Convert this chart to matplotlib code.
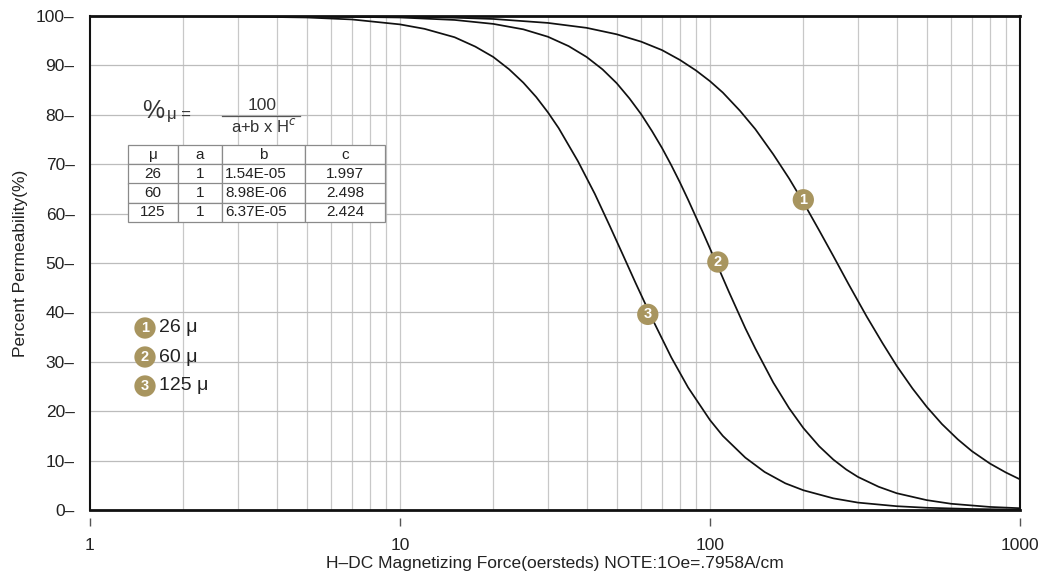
import numpy as np
import matplotlib
matplotlib.use('Agg')
import matplotlib.pyplot as plt
from matplotlib.transforms import blended_transform_factory

plt.rcParams['font.family'] = ['Liberation Sans', 'DejaVu Sans']

# curve readings: H (oersteds) vs percent permeability
H1 = [1, 3, 5, 10, 15, 20, 30, 40, 50, 60, 70, 80, 90, 100, 110, 125, 140, 160, 180, 200,
      225, 250, 280, 320, 360, 400, 450, 500, 560, 630, 700, 800, 900, 1000]
P1 = [100, 99.99, 99.96, 99.85, 99.66, 99.4, 98.6, 97.6, 96.3, 94.8, 93.1, 91.1, 89.0, 86.8,
      84.5, 80.8, 77.1, 72.0, 67.1, 62.3, 56.6, 51.4, 45.7, 39.2, 33.8, 29.2, 24.6, 20.9,
      17.4, 14.3, 11.9, 9.4, 7.6, 6.2]

H2 = [1, 3, 5, 10, 15, 20, 25, 30, 35, 40, 45, 50, 55, 60, 65, 70, 75, 80, 85, 95, 105,
      115, 130, 140, 160, 180, 200, 225, 250, 275, 300, 350, 400, 500, 600, 800, 1000]
P2 = [100, 99.99, 99.95, 99.7, 99.2, 98.4, 97.3, 95.8, 93.9, 91.7, 89.2, 86.4, 83.3, 80.1,
      76.7, 73.3, 69.8, 66.3, 62.8, 56.1, 49.9, 44.2, 36.8, 32.7, 25.8, 20.6, 16.6, 12.9,
      10.2, 8.2, 6.7, 4.7, 3.4, 2.0, 1.26, 0.62, 0.36]

H3 = [1, 2, 3, 5, 7, 10, 12, 15, 17.5, 20, 22.5, 25, 27.5, 30, 32.5, 37.5, 42.5, 47.5,
      52.5, 57.5, 65, 75, 85, 100, 110, 130, 150, 175, 200, 250, 300, 400, 500, 700, 1000]
P3 = [99.99, 99.97, 99.9, 99.7, 99.3, 98.3, 97.4, 95.7, 93.8, 91.7, 89.2, 86.5, 83.6, 80.5,
      77.3, 70.6, 64.0, 57.5, 51.5, 46.0, 38.8, 30.9, 24.8, 18.2, 15.0, 10.6, 7.7, 5.4, 4.0,
      2.36, 1.5, 0.77, 0.45, 0.2, 0.08]

curve_h = [H1, H2, H3]
curve_p = [P1, P2, P3]
curve_num = ['1', '2', '3']
curve_mu = ['26 μ', '60 μ', '125 μ']

# numbered labels sitting on the curves
label_h = [200, 106, 63]
label_p = [62.8, 50.2, 39.6]

# coefficient table
table_cols = ['μ', 'a', 'b', 'c']
table_rows = [['26', '1', '1.54E-05', '1.997'],
              ['60', '1', '8.98E-06', '2.498'],
              ['125', '1', '6.37E-05', '2.424']]

xticks = [1, 10, 100, 1000]
yticks = list(range(0, 101, 10))

GOLD = '#a8955f'

fig = plt.figure(figsize=(10.48, 5.81), dpi=100)
ax = fig.add_axes([90 / 1048, 71 / 581, 930 / 1048, 494 / 581])
ax.set_xscale('log')
ax.set_xlim(1, 1000)
ax.set_ylim(0, 100)

# grid
minor = [m * 10 ** d for d in range(3) for m in range(2, 10)]
for xv in minor + [10, 100]:
    ax.axvline(xv, color='#c8c8c8', lw=0.9, zorder=1)
for yv in yticks[1:-1]:
    ax.axhline(yv, color='#bcbcbc', lw=0.9, zorder=1)

for hh, pp in zip(curve_h, curve_p):
    ax.plot(hh, pp, color='#111111', lw=1.25, zorder=3)

for n, hx, py in zip(curve_num, label_h, label_p):
    ax.text(hx, py, n, ha='center', va='center', color='white', fontsize=10.5,
            fontweight='bold', zorder=5,
            bbox=dict(boxstyle='circle,pad=0.25', fc=GOLD, ec='none'))

# legend
for i, (n, mu) in enumerate(zip(curve_num, curve_mu)):
    fy = (510 - (328 + 29 * i)) / 494
    ax.text((145 - 90) / 930, fy, n, transform=ax.transAxes, ha='center', va='center',
            color='white', fontsize=10.5, fontweight='bold', zorder=5,
            bbox=dict(boxstyle='circle,pad=0.25', fc=GOLD, ec='none'))
    ax.text((159 - 90) / 930, fy, mu, transform=ax.transAxes, ha='left', va='center',
            color='#222222', fontsize=14, zorder=5)

# formula
ax.text((142 - 90) / 930, (510 - 111) / 494, '%', transform=ax.transAxes, fontsize=18,
        ha='left', va='center', color='#333333')
ax.text((167 - 90) / 930, (510 - 115) / 494, 'μ =', transform=ax.transAxes, fontsize=12,
        ha='left', va='center', color='#333333')
ax.text((262 - 90) / 930, (510 - 105) / 494, '100', transform=ax.transAxes, fontsize=12.5,
        ha='center', va='center', color='#333333')
ax.plot([(222 - 90) / 930, (300 - 90) / 930], [(510 - 116) / 494] * 2,
        transform=ax.transAxes, color='#555555', lw=0.9)
ax.text((264 - 90) / 930, (510 - 126) / 494, 'a+b x H$^{c}$', transform=ax.transAxes,
        fontsize=12, ha='center', va='center', color='#333333')

tb = ax.table(cellText=table_rows, colLabels=table_cols, cellLoc='center',
              colWidths=[50, 44, 83, 80],
              bbox=[(128 - 90) / 930, (510 - 222) / 494, 257 / 930, 77 / 494])
tb.set_zorder(10)
tb.auto_set_font_size(False)
tb.set_fontsize(11)
for (r, c), cell in tb.get_celld().items():
    cell.set_edgecolor('#8a8a8a')
    cell.set_linewidth(0.9)
    cell.set_facecolor('white')
    cell.get_text().set_color('#222222')
    if c == 2 and r > 0:
        cell.get_text().set_ha('left')
        cell._loc = 'left'
        cell.PAD = 0.04

# spines
for s in ['left', 'right']:
    ax.spines[s].set_linewidth(1.5)
for s in ['top', 'bottom']:
    ax.spines[s].set_linewidth(2.0)
for s in ax.spines.values():
    s.set_color('#111111')
    s.set_zorder(11)

ax.set_yticks(yticks)
ax.set_yticklabels([f'{v}–' for v in yticks])
ax.tick_params(axis='y', length=0, pad=11, labelsize=12.5, labelcolor='#222222')
ax.set_xticks(xticks)
ax.set_xticklabels([str(v) for v in xticks])
ax.xaxis.set_minor_locator(matplotlib.ticker.NullLocator())
ax.tick_params(axis='x', length=0, pad=20, labelsize=12.5, labelcolor='#222222')
trans = blended_transform_factory(ax.transData, ax.transAxes)
ax.vlines(xticks, -0.017, -0.032, transform=trans, color='#555555', lw=1.0, clip_on=False)

ax.set_xlabel('H–DC Magnetizing Force(oersteds) NOTE:1Oe=.7958A/cm', fontsize=12.5,
              color='#222222', labelpad=2)
ax.set_ylabel('Percent Permeability(%)', fontsize=12.5, color='#222222', labelpad=6)

fig.savefig('out.png', dpi=100, facecolor='white')
